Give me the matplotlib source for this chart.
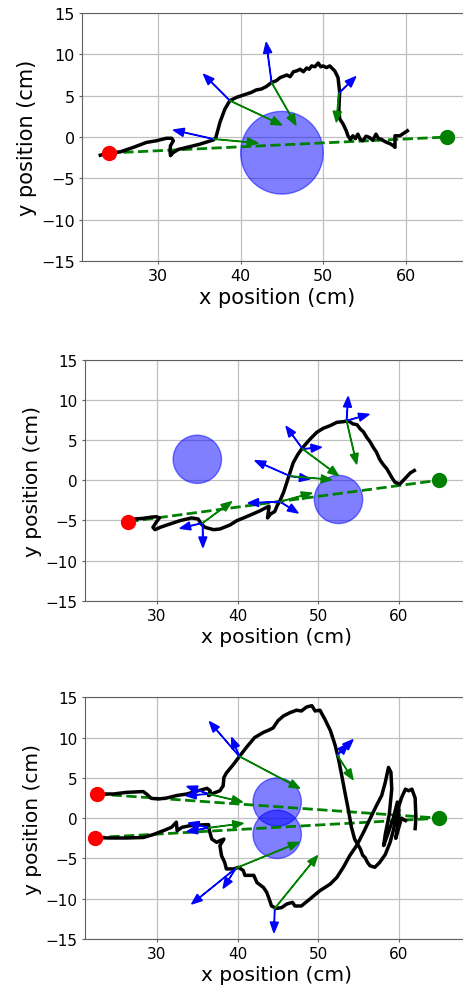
import matplotlib.pyplot as plt

# ---- panel 1 ----
traj1_x = [23.0, 24.0, 25.4, 27.0, 28.6, 29.8, 31.0, 31.65, 31.85, 31.5, 31.45, 31.5, 31.8, 32.45,
           33.5, 35.1, 36.7, 37.0, 37.5, 38.1, 38.7, 39.5, 40.7, 41.3, 41.9, 42.5, 43.1, 43.75, 44.3,
           44.8, 45.6, 46.0, 46.4, 46.8, 47.2, 47.6, 48.0, 48.3, 48.6, 49.0, 49.4, 49.7, 50.0, 50.4,
           50.8, 51.4, 51.8, 52.0, 51.9, 52.0, 52.4, 52.8, 53.0, 53.3, 53.6, 53.9, 54.2, 54.5, 54.8,
           55.2, 55.6, 56.0, 56.4, 56.7, 57.0, 57.4, 57.7, 58.1, 58.5, 58.7, 58.7, 59.3, 59.9, 60.2]
traj1_y = [-2.2, -1.9, -1.8, -1.25, -0.65, -0.45, -0.15, -0.15, -0.45, -1.05, -1.65, -2.25, -1.9, -1.5,
           -1.25, -0.85, -0.35, -0.05, 1.8, 3.4, 4.4, 4.8, 5.2, 5.4, 5.7, 5.8, 6.1, 6.6, 6.8,
           7.2, 7.5, 7.3, 7.9, 8.0, 8.2, 7.9, 8.35, 8.2, 8.6, 8.5, 8.95, 8.5, 8.6, 8.4,
           8.6, 8.0, 7.2, 5.4, 3.4, 2.2, 1.6, 0.75, 0.15, -0.3, 0.15, -0.2, 0.35, -0.3, -0.45,
           0.1, -0.05, -0.4, 0.35, -0.2, -0.25, -0.5, -0.65, -0.8, -1.05, -1.25, 0.15, 0.15, 0.55, 0.75]
start1 = [(24.0, -1.94)]
goal1 = (65.0, 0.0)
obst1 = [(45.0, -1.9, 5.0)]
arrow1_origin = [(36.7, -0.24), (36.7, -0.24), (38.7, 4.4), (38.7, 4.4),
                 (43.75, 6.6), (43.75, 6.6), (51.9, 5.3), (51.9, 5.3)]
arrow1_tip = [(31.85, 0.85), (42.1, -0.73), (35.5, 7.6), (45.0, 1.45),
              (43.1, 11.45), (46.7, 1.45), (53.95, 7.3), (51.6, 1.8)]
arrow1_color = ['blue', 'green', 'blue', 'green', 'blue', 'green', 'blue', 'green']

# ---- panel 2 ----
traj2_x = [27.3, 28.3, 29.3, 29.95, 30.3, 29.9, 29.5, 29.75, 30.4, 31.6, 32.85, 34.3, 35.1, 35.5,
           35.95, 37.0, 37.8, 39.05, 39.9, 40.9, 41.9, 42.8, 43.6, 43.9, 43.8, 43.7, 44.1, 44.6,
           44.9, 45.25, 45.7, 46.1, 46.5, 46.9, 47.5, 48.1, 48.97, 49.8, 50.6, 51.45, 52.3, 53.1,
           53.7, 54.3, 54.8, 55.2, 55.6, 56.0, 56.4, 56.8, 57.2, 57.6, 58.0, 58.5, 59.1, 59.5,
           60.1, 60.7, 61.4, 61.9]
traj2_y = [-4.83, -4.75, -4.6, -4.55, -4.7, -5.25, -5.87, -6.16, -5.87, -5.46, -5.04, -4.7, -4.83, -5.46,
           -5.87, -6.16, -6.08, -5.58, -5.04, -4.63, -4.2, -3.8, -3.38, -3.26, -4.0, -4.7, -4.2, -3.9,
           -3.17, -2.55, -1.5, -0.27, 0.98, 2.2, 3.26, 4.1, 5.1, 5.95, 6.45, 6.78, 7.2, 7.28,
           7.4, 7.0, 6.9, 6.37, 6.0, 5.33, 4.8, 4.1, 3.5, 2.6, 2.0, 1.4, 0.35, -0.27,
           -0.48, 0.15, 0.9, 1.2]
start2 = [(26.45, -5.17)]
goal2 = (65.0, 0.0)
obst2 = [(35.0, 2.6, 3.0), (52.5, -2.4, 3.0)]
arrow2_origin = [(35.66, -5.33), (35.66, -5.33), (35.66, -5.33),
                 (45.25, -2.68), (45.25, -2.68), (45.25, -2.68),
                 (46.5, 0.5), (46.5, 0.5), (46.5, 0.5),
                 (48.06, 3.88), (48.06, 3.88), (48.06, 3.88),
                 (53.5, 7.4), (53.5, 7.4), (53.5, 7.4)]
arrow2_tip = [(32.85, -6.0), (35.7, -8.37), (39.26, -2.68),
              (41.3, -2.84), (47.5, -4.09), (49.2, -1.6),
              (42.15, 2.43), (48.97, 0.15), (51.66, 0.06),
              (46.0, 6.7), (50.4, 4.1), (52.5, 0.56),
              (53.7, 10.4), (56.3, 8.2), (54.75, 2.0)]
arrow2_color = ['blue', 'blue', 'green'] * 5

# ---- panel 3 ----
traj3a_x = [22.9, 24.6, 26.2, 28.3, 28.7, 29.3, 30.2, 31.2, 32.4, 33.7, 35.1, 36.2, 36.6, 36.4,
            37.0, 37.8, 38.2, 38.3, 38.6, 39.5, 40.3, 41.1, 42.1, 43.2, 43.8, 44.4, 45.0, 45.7,
            46.5, 47.3, 47.9, 48.55, 49.2, 49.6, 50.2, 50.8, 51.5, 52.1, 52.5, 52.9, 53.3, 53.7,
            54.1, 54.5, 55.2, 55.5, 55.8, 56.1, 56.4, 57.0, 57.3, 57.6, 58.3, 58.9, 59.3, 59.6,
            59.9, 60.3, 60.8, 61.2, 61.6, 62.0, 62.1, 62.0]
traj3a_y = [3.0, 3.0, 3.2, 3.3, 3.0, 2.46, 2.38, 2.5, 2.8, 3.0, 3.4, 3.7, 3.4, 2.8,
            3.1, 3.4, 4.0, 5.05, 5.6, 6.7, 7.76, 8.8, 10.0, 10.65, 10.9, 11.2, 12.1, 12.7,
            13.1, 13.4, 13.3, 13.8, 13.96, 13.3, 13.4, 12.3, 10.86, 9.0, 7.34, 5.3, 3.2, 1.14,
            -1.1, -2.6, -3.8, -4.6, -4.9, -5.5, -5.9, -6.1, -5.8, -5.5, -4.5, -3.0, -1.5, 0.0,
            1.2, 2.5, 3.6, 3.4, 3.6, 2.5, 0.0, -1.3]
traj3b_x = [22.5, 24.2, 26.2, 28.3, 29.5, 30.8, 31.8, 32.4, 32.5, 33.1, 34.1, 35.3, 36.4, 36.5,
            36.8, 37.4, 37.8, 38.3, 37.8, 38.0, 38.4, 38.6, 39.5, 40.1, 40.7, 40.9, 42.0, 42.4,
            43.2, 43.6, 43.9, 44.2, 44.8, 45.45, 46.1, 46.8, 47.1, 47.9, 49.0, 50.2, 51.45, 52.3,
            53.1, 53.9, 54.75, 55.6, 56.4, 57.2, 57.85, 58.3, 58.7, 59.0, 59.1, 58.8, 58.3, 58.1,
            58.6, 59.3, 59.8, 60.0, 59.8, 59.6, 60.3, 60.8]
traj3b_y = [-2.42, -2.46, -2.46, -2.4, -2.05, -1.55, -1.14, -0.5, -1.55, -1.14, -0.93, -0.85, -0.8, -1.55,
            -2.6, -3.0, -2.8, -2.6, -3.4, -4.65, -5.5, -6.3, -6.3, -6.1, -6.5, -7.1, -7.1, -8.0,
            -8.6, -9.2, -10.0, -10.9, -11.2, -11.1, -10.65, -10.45, -10.9, -10.9, -10.0, -9.0, -8.2, -7.35,
            -6.1, -4.65, -3.4, -1.76, -0.1, 1.55, 2.8, 4.45, 6.3, 5.7, 3.6, 0.5, -2.0, -3.4,
            -2.0, 0.0, 2.0, 1.0, -1.0, -2.5, 0.0, -0.3]
start3 = [(22.56, 3.0), (22.27, -2.42)]
goal3 = (65.0, 0.0)
obst3 = [(44.9, 2.0, 3.0), (44.9, -2.0, 3.0)]
arrow3_origin = [(36.4, 3.0), (36.4, 3.0), (36.4, 3.0),
                 (36.4, -1.2), (36.4, -1.2), (36.4, -1.2),
                 (40.2, 7.68), (40.2, 7.68), (40.2, 7.68),
                 (52.35, 7.83), (52.35, 7.83), (52.35, 7.83),
                 (39.8, -6.2), (39.8, -6.2), (39.8, -6.2),
                 (44.6, -11.2), (44.6, -11.2)]
arrow3_tip = [(33.7, 3.95), (33.55, 2.8), (40.6, 2.0),
              (33.9, -0.6), (33.7, -1.68), (40.7, -0.64),
              (36.5, 11.98), (39.26, 10.0), (47.7, 3.7),
              (54.3, 9.74), (53.7, 9.2), (54.3, 4.78),
              (34.3, -10.65), (38.2, -8.7), (47.6, -3.0),
              (44.5, -14.2), (49.9, -4.65)]
arrow3_color = ['blue', 'blue', 'green'] * 5 + ['blue', 'green']


def draw_panel(ax, trajs, starts, goal, obstacles, origins, tips, colors, xlim, fs_tick, fs_label):
    for (ox, oy, r) in obstacles:
        ax.add_patch(plt.Circle((ox, oy), r, color='blue', alpha=0.5, zorder=2))
    for (sx, sy) in starts:
        ax.plot([sx, goal[0]], [sy, goal[1]], '--', color='green', lw=2, zorder=3)
    for (tx, ty) in trajs:
        ax.plot(tx, ty, color='black', lw=2.5, zorder=4)
    for (o, t, c) in zip(origins, tips, colors):
        ax.arrow(o[0], o[1], t[0] - o[0], t[1] - o[1], color=c, width=0.06,
                 head_width=1.0, head_length=1.3, length_includes_head=True, zorder=5)
    for (sx, sy) in starts:
        ax.plot(sx, sy, 'o', color='red', markersize=10, zorder=6)
    ax.plot(goal[0], goal[1], 'o', color='green', markersize=10, zorder=6)
    ax.set_xlim(xlim)
    ax.set_ylim(-15, 15)
    ax.set_xticks([30, 40, 50, 60])
    ax.set_yticks([-15, -10, -5, 0, 5, 10, 15])
    ax.grid(True, color='#c0c0c0', lw=0.9)
    ax.set_axisbelow(True)
    for sp in ax.spines.values():
        sp.set_color('#606060')
    ax.tick_params(labelsize=fs_tick, length=2, width=0.8, pad=3, color='#606060')
    ax.set_xlabel('x position (cm)', fontsize=fs_label, labelpad=3)
    ax.set_ylabel('y position (cm)', fontsize=fs_label, labelpad=3)


fig = plt.figure(figsize=(4.64, 9.87), dpi=100)
ax1 = fig.add_axes([0.1767, 0.7345, 0.840, 0.2513])
ax2 = fig.add_axes([0.1825, 0.3904, 0.8252, 0.2442])
ax3 = fig.add_axes([0.1825, 0.0476, 0.8252, 0.2449])

draw_panel(ax1, [(traj1_x, traj1_y)], start1, goal1, obst1,
           arrow1_origin, arrow1_tip, arrow1_color, (20.78, 68.0), 11.5, 15)
draw_panel(ax2, [(traj2_x, traj2_y)], start2, goal2, obst2,
           arrow2_origin, arrow2_tip, arrow2_color, (21.04, 68.5), 11, 14.5)
draw_panel(ax3, [(traj3a_x, traj3a_y), (traj3b_x, traj3b_y)], start3, goal3, obst3,
           arrow3_origin, arrow3_tip, arrow3_color, (21.04, 68.5), 11, 14.5)

fig.savefig('out.png', dpi=100)
